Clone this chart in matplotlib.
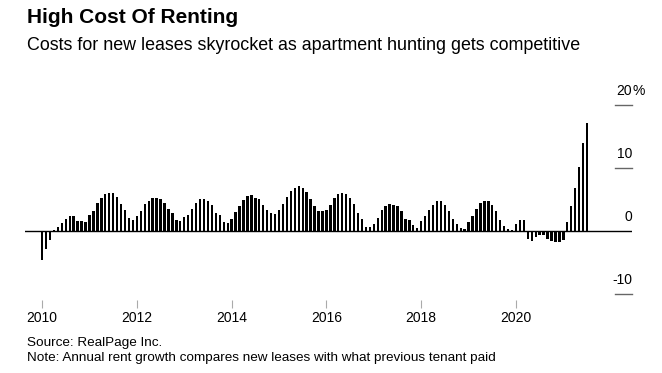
import numpy as np
import matplotlib
matplotlib.use('Agg')
import matplotlib.pyplot as plt
import matplotlib.transforms as mtransforms

plt.rcParams['font.family'] = ['Liberation Sans', 'DejaVu Sans']

# monthly annual rent growth for new leases, %, Jan 2010 - Jul 2021
rent_growth = [
    -4.6, -2.8, -1.5, 0.1, 0.6, 1.2, 1.9, 2.3, 2.3, 1.6, 1.6, 1.5,   # 2010
    2.5, 3.2, 4.5, 5.2, 5.9, 6.1, 6.0, 5.4, 4.3, 3.3, 2.0, 1.7,      # 2011
    2.4, 3.2, 4.3, 4.8, 5.2, 5.2, 5.1, 4.4, 3.5, 2.9, 1.7, 1.6,      # 2012
    2.2, 2.6, 3.5, 4.5, 5.0, 5.0, 4.7, 4.1, 2.9, 2.6, 1.5, 1.3,      # 2013
    1.9, 3.0, 4.0, 4.9, 5.6, 5.7, 5.3, 5.0, 4.1, 3.4, 2.9, 2.7,      # 2014
    3.4, 4.3, 5.4, 6.3, 6.8, 7.1, 6.9, 6.2, 5.1, 3.9, 3.1, 3.1,      # 2015
    3.4, 4.2, 5.2, 5.9, 6.0, 5.9, 5.2, 4.3, 2.9, 1.9, 0.7, 0.6,      # 2016
    1.1, 2.0, 3.3, 4.0, 4.3, 4.2, 3.9, 3.1, 1.9, 1.7, 1.0, 0.4,      # 2017
    1.6, 2.4, 3.3, 4.1, 4.8, 4.7, 4.1, 3.2, 1.9, 1.1, 0.5, 0.3,      # 2018
    1.4, 2.4, 3.5, 4.5, 4.8, 4.7, 4.1, 3.1, 1.7, 0.8, 0.3, 0.2,      # 2019
    1.1, 1.7, 1.7, -1.3, -1.6, -0.9, -0.6, -0.7, -1.2, -1.6, -1.8, -1.8,  # 2020
    -1.5, 1.5, 3.9, 6.9, 10.2, 14.0, 17.1,                          # 2021
]
start_year = 2010
x_ticks = [2010, 2012, 2014, 2016, 2018, 2020]
y_ticks = [20, 10, 0, -10]
y_tick_labels = ['20', '10', '0', '-10']

months = start_year + np.arange(len(rent_growth)) / 12.0

fig = plt.figure(figsize=(6.62, 3.73), dpi=100)
ax = fig.add_axes([0.0378, 0.195, 0.917, 0.564])

ax.bar(months, rent_growth, width=0.6 / 12, color='black', align='center', zorder=3)
ax.axhline(0, color='black', linewidth=1.0, zorder=2)

ax.set_xlim(2009.64, 2022.45)
ax.set_ylim(-11, 22.4)

for s in ax.spines.values():
    s.set_visible(False)

ax.set_xticks(x_ticks)
ax.set_xticklabels([str(t) for t in x_ticks], fontsize=10)
ax.tick_params(axis='x', length=6, width=0.8, color='#aaaaaa', pad=1.5, direction='out')
ax.set_yticks([])

# right-side value labels with short grid marks, % hangs past the edge
trans = mtransforms.blended_transform_factory(ax.transAxes, ax.transData)
for v, lab in zip(y_ticks, y_tick_labels):
    if v != 0:
        ax.plot([0.972, 1.0], [v, v], transform=trans, color='#666666',
                linewidth=1.0, clip_on=False)
    ax.annotate(lab, xy=(1.0, v), xycoords=trans, xytext=(0, 5),
                textcoords='offset points', ha='right', va='bottom', fontsize=10)
    if v == max(y_ticks):
        ax.annotate('%', xy=(1.0, v), xycoords=trans, xytext=(0, 5),
                    textcoords='offset points', ha='left', va='bottom', fontsize=10)

fig.text(0.041, 0.952, 'High Cost Of Renting', fontsize=15, fontweight='bold',
         ha='left', va='center')
fig.text(0.041, 0.877, 'Costs for new leases skyrocket as apartment hunting gets competitive',
         fontsize=12.9, ha='left', va='center')
fig.text(0.041, 0.080, 'Source: RealPage Inc.', fontsize=9.7, ha='left', va='center')
fig.text(0.041, 0.040, 'Note: Annual rent growth compares new leases with what previous tenant paid',
         fontsize=9.7, ha='left', va='center')

fig.savefig('out.png', dpi=100)
